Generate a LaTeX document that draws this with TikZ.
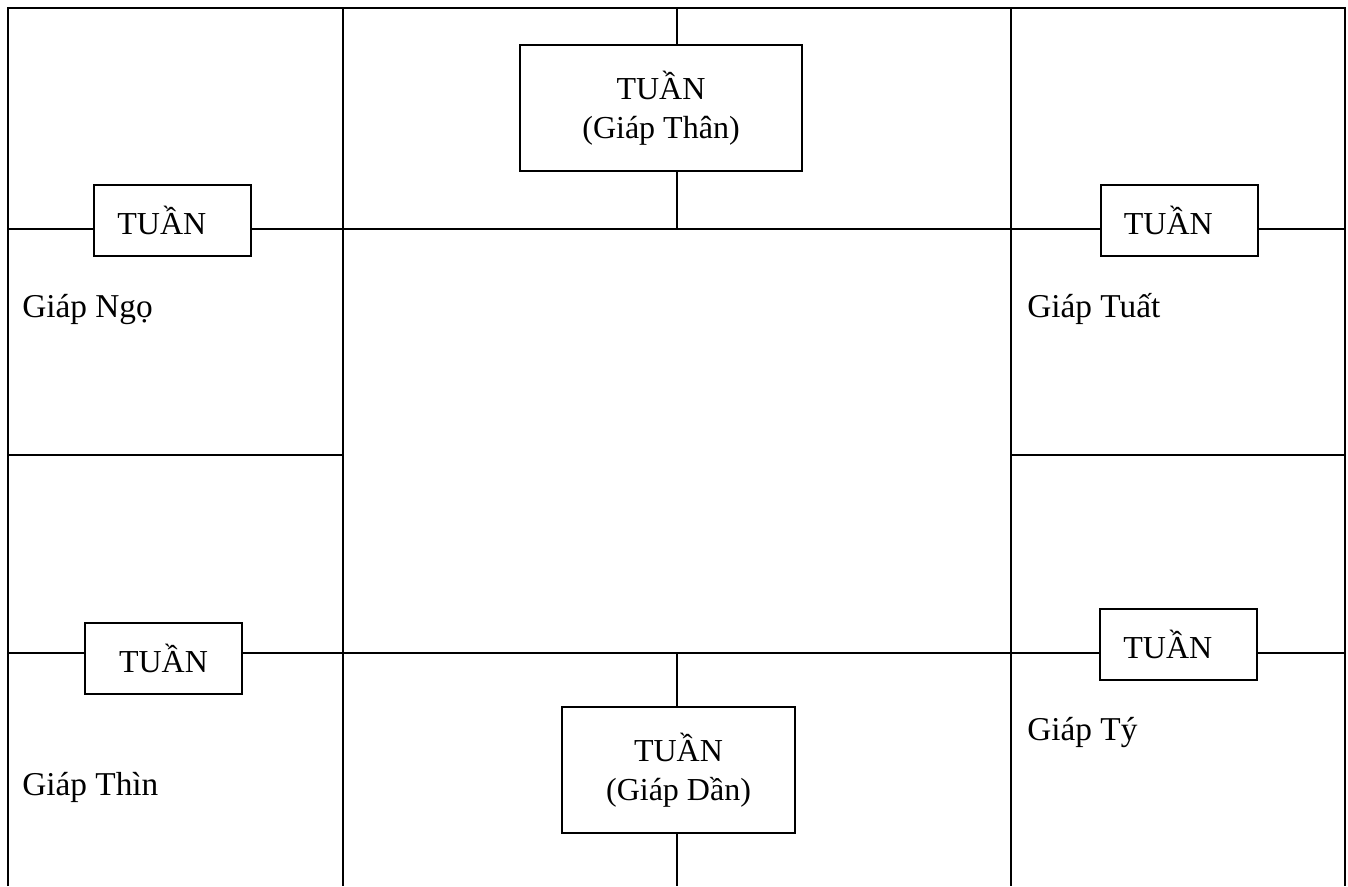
\documentclass[tikz,border=0pt]{standalone}
\usepackage{fontspec}
\setmainfont{Liberation Serif}
\begin{document}
\begin{tikzpicture}[x=0.75pt,y=-0.75pt,
  grid/.style={line width=1.7pt},
  tbox/.style={draw,line width=1.5pt,fill=white,inner sep=0pt,align=center,
    font=\fontsize{24}{29}\selectfont},
  small/.style={tbox,minimum width=117.75pt,minimum height=53.25pt},
  big/.style={tbox,minimum height=94.5pt},
  lbl/.style={anchor=base west,inner sep=0pt,font=\fontsize{25}{30}\selectfont}]
\useasboundingbox (0,0) rectangle (1348,886);
% key coordinates
\coordinate (tl) at (8,8);
\coordinate (tr) at (1345,8);
\coordinate (bl) at (8,886);
\coordinate (br) at (1345,886);
\coordinate (v1t) at (343,8);   \coordinate (v1b) at (343,886);
\coordinate (v2t) at (1011,8);  \coordinate (v2b) at (1011,886);
\coordinate (mt) at (677,8);    \coordinate (mb) at (677,886);
\coordinate (h1l) at (8,229);   \coordinate (h1a) at (343,229);
\coordinate (h1b) at (1011,229); \coordinate (h1r) at (1345,229);
\coordinate (h2l) at (8,455);   \coordinate (h2a) at (343,455);
\coordinate (h2b) at (1011,455); \coordinate (h2r) at (1345,455);
\coordinate (h3l) at (8,653);   \coordinate (h3a) at (343,653);
\coordinate (h3b) at (1011,653); \coordinate (h3r) at (1345,653);
\coordinate (h1m) at (677,229); \coordinate (h3m) at (677,653);
% boxes
\node[small] (bTL) at (172.5,220.5) {TUẦN\hspace*{16pt}};
\node[small] (bTR) at (1179,220.5) {TUẦN\hspace*{16pt}};
\node[small] (bBL) at (163.5,658.5) {TUẦN};
\node[small] (bBR) at (1178.5,644) {TUẦN\hspace*{16pt}};
\node[big,minimum width=211.5pt] (bTC) at (661,108) {TUẦN\\(Giáp Thân)};
\node[big,minimum width=174.75pt] (bBC) at (678.5,770) {TUẦN\\(Giáp Dần)};
% frame and grid
\draw[grid] (bl) -- (tl) -- (tr) -- (br);
\draw[grid] (v1t) -- (v1b);
\draw[grid] (v2t) -- (v2b);
\draw[grid] (h1l) -- (h1l -| bTL.west);
\draw[grid] (h1l -| bTL.east) -- (h1a);
\draw[grid] (h1a) -- (h1b);
\draw[grid] (h1b) -- (h1b -| bTR.west);
\draw[grid] (h1b -| bTR.east) -- (h1r);
\draw[grid] (h2l) -- (h2a);
\draw[grid] (h2b) -- (h2r);
\draw[grid] (h3l) -- (h3l -| bBL.west);
\draw[grid] (h3l -| bBL.east) -- (h3a);
\draw[grid] (h3a) -- (h3b);
\draw[grid] (h3b) -- (h3b -| bBR.west);
\draw[grid] (h3b -| bBR.east) -- (h3r);
\draw[grid] (mt) -- (mt |- bTC.north);
\draw[grid] (h1m |- bTC.south) -- (h1m);
\draw[grid] (h3m) -- (h3m |- bBC.north);
\draw[grid] (mb |- bBC.south) -- (mb);
% labels
\node[lbl] (lNgo) at (22,317) {Giáp Ngọ};
\node[lbl] (lTuat) at (1027,317) {Giáp Tuất};
\node[lbl] (lThin) at (22,795) {Giáp Thìn};
\node[lbl] (lTy) at (1027,740) {Giáp Tý};
\end{tikzpicture}
\end{document}
